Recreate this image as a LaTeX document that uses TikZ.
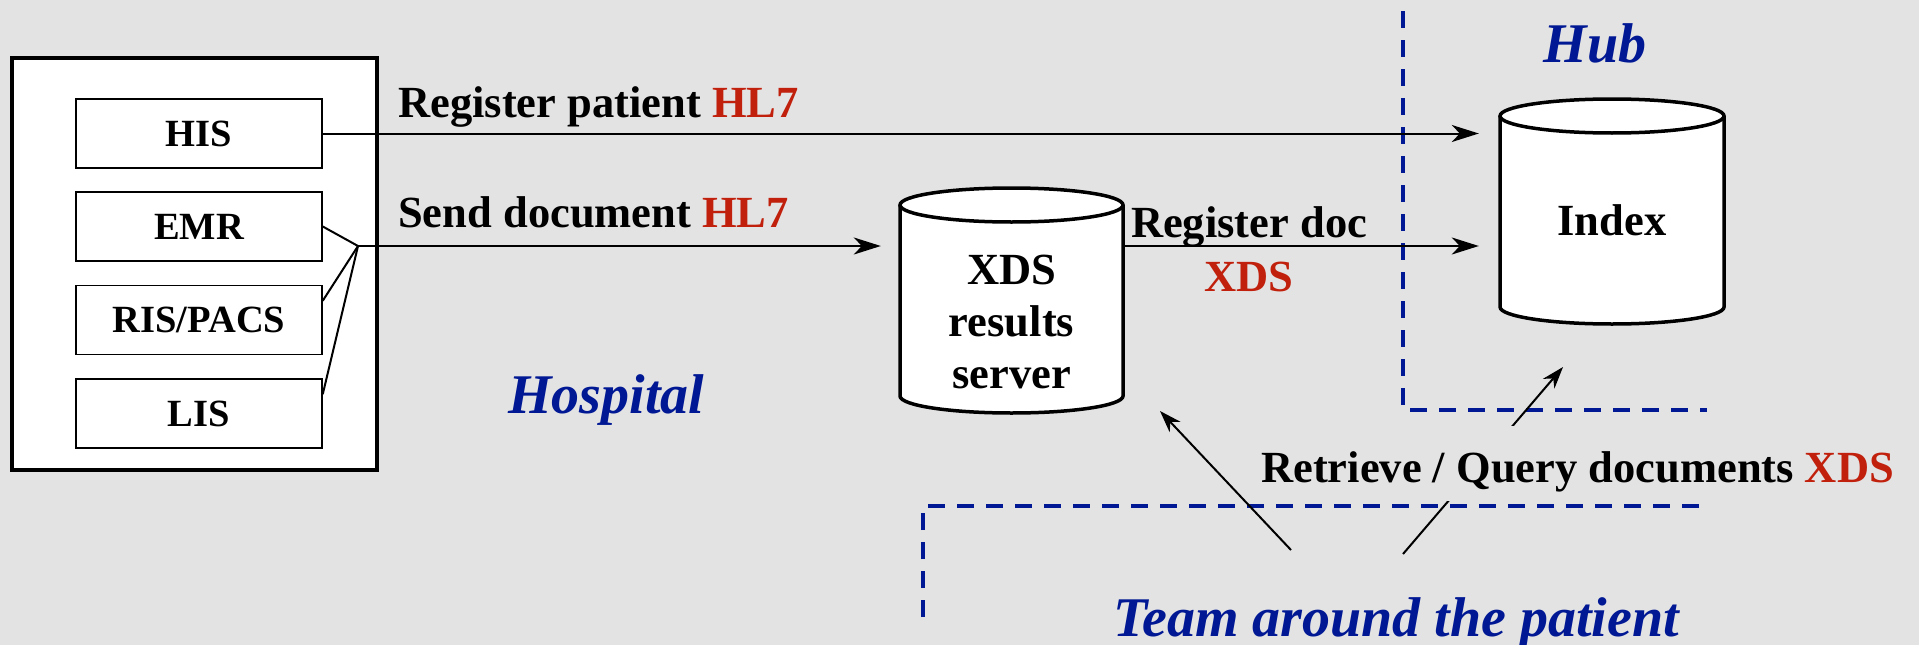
\documentclass[tikz,border=0pt]{standalone}
\usepackage{fontspec}
\setmainfont{Liberation Serif}
\usetikzlibrary{arrows.meta,calc}
\definecolor{bg}{RGB}{227,227,227}
\definecolor{hblue}{RGB}{0,24,148}
\definecolor{hred}{RGB}{192,32,12}
\begin{document}
\begin{tikzpicture}[x=1pt,y=-1pt,
  sysbox/.style={draw, fill=white, line width=1.5pt, minimum width=246pt, minimum height=69pt, inner sep=0pt, font=\fontsize{38.5}{44}\selectfont\bfseries},
  lbl/.style={inner sep=0pt, font=\fontsize{44.5}{52}\selectfont\bfseries},
  region/.style={inner sep=0pt, text=hblue, font=\fontsize{56}{64}\selectfont\bfseries\itshape},
  conn/.style={line width=2pt, -{Stealth[length=27pt,width=17pt,inset=8pt]}},
  teamconn/.style={line width=2pt, -{Stealth[length=22pt,width=15pt,inset=7pt]}},
  zone/.style={draw=hblue, line width=4pt, dash pattern=on 17pt off 12pt},
  cylline/.style={line width=3.5pt},
  hide/.style={inner sep=0pt, draw=none}]
\useasboundingbox (0,0) rectangle (1919,645);
\fill[bg] (0,0) rectangle (1919,645);

% dashed zones
\draw[zone] (1403,11) -- (1403,410) -- (1707,410);
\draw[zone] (923,617) -- (923,506) -- (1707,506);

% hospital systems
\node[draw, fill=white, line width=3.5pt, minimum width=365pt, minimum height=412pt, inner sep=0pt] (hosp) at (194.5,264) {};
\node[sysbox] (his) at (199,133.5) {HIS};
\node[sysbox] (emr) at (199,226.5) {EMR};
\node[sysbox] (ris) at (199,320) {RIS/PACS};
\node[sysbox] (lis) at (199,413.5) {LIS};
\coordinate (j) at (358,246);

% XDS cylinder
\node[hide, minimum width=223pt, minimum height=225pt] (xds) at (1011.5,300.5) {};
\fill[white] (900,205) -- (900,396) arc[start angle=180,end angle=0,x radius=111.5,y radius=17] -- (1123,205) -- cycle;
\draw[cylline] (900,205) -- (900,396) arc[start angle=180,end angle=0,x radius=111.5,y radius=17] -- (1123,205);
\filldraw[fill=white, cylline] (1011.5,205) ellipse [x radius=111.5, y radius=17];
\node[lbl, align=center] (xdst) at (1011.5,321.5) {XDS\\results\\server};

% Index cylinder
\node[hide, minimum width=224pt, minimum height=225pt] (idx) at (1612,211.5) {};
\fill[white] (1500,116) -- (1500,307) arc[start angle=180,end angle=0,x radius=112,y radius=17] -- (1724,116) -- cycle;
\draw[cylline] (1500,116) -- (1500,307) arc[start angle=180,end angle=0,x radius=112,y radius=17] -- (1724,116);
\filldraw[fill=white, cylline] (1612,116) ellipse [x radius=112, y radius=17];
\node[lbl, anchor=base] (idxt) at (1612,235) {Index};

% connectors
\draw[line width=2pt] (emr.east) -- (j);
\draw[line width=2pt] ($(ris.north east)+(0,16)$) -- (j);
\draw[line width=2pt] ($(lis.north east)+(0,16)$) -- (j);
\draw[conn, shorten >=19pt] (j) -- (j -| xds.west);
\draw[conn, shorten >=21pt] (his.east) -- (his.east -| idx.west);
\draw[conn, shorten >=21pt] (j -| xds.east) -- (j -| idx.west);

% labels
\node[lbl, anchor=base west] (l1) at (398,117) {Register patient \textcolor{hred}{HL7}};
\node[lbl, anchor=base west] (l2) at (398,227) {Send document \textcolor{hred}{HL7}};
\node[lbl, align=center, font=\fontsize{44.5}{54}\selectfont\bfseries] (l3) at (1249,249.5) {Register doc\\\textcolor{hred}{XDS}};

\node[region, anchor=base] (hub) at (1595,62) {Hub};
\node[region, anchor=base west] (hospl) at (508,413) {Hospital};
\node[region, anchor=base west] (team) at (1113,636) {Team around the patient};

% team connectors
\coordinate (t1) at (1291,550);
\coordinate (t1e) at (1160,411);
\coordinate (t2) at (1403,554);
\coordinate (t2e) at (1563,367);
\draw[teamconn] (t1) -- (t1e);
\draw[teamconn] (t2) -- (t2e);
\node[lbl, anchor=base west, fill=bg, text height=56pt, text depth=19pt] (rq) at (1261,482) {Retrieve / Query documents \textcolor{hred}{XDS}};
\end{tikzpicture}
\end{document}
